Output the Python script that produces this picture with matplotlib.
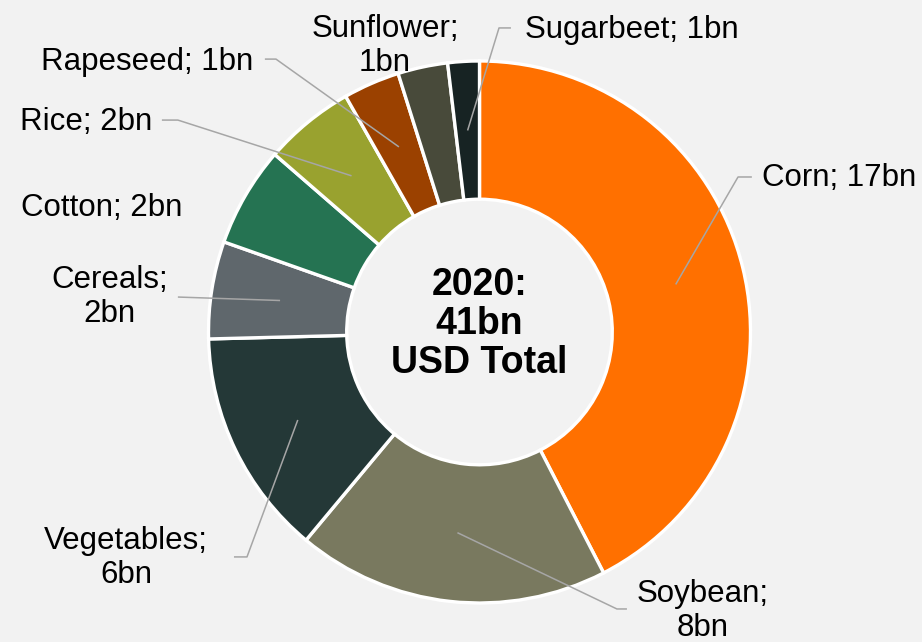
import matplotlib
matplotlib.use("Agg")
import numpy as np
import matplotlib.pyplot as plt

plt.rcParams["font.family"] = ["Liberation Sans", "DejaVu Sans"]

# -----------------------------
# Data (USD bn, 2020)
# -----------------------------

crops = ["Corn", "Soybean", "Vegetables", "Cereals", "Cotton",
         "Rice", "Rapeseed", "Sunflower", "Sugarbeet"]
values = [17.4, 7.64, 5.55, 2.38, 2.45, 2.22, 1.38, 1.22, 0.77]
colors = ["#FF7000", "#79795F", "#243837", "#5F676C", "#257352",
          "#99A22F", "#9B4100", "#484A3A", "#172323"]

# label text position, alignment, line break, leader line (end, elbow) or None
label_pos = [(1.043, 0.568), (0.825, -1.030), (-1.304, -0.834), (-1.365, 0.129),
             (-1.395, 0.458), (-1.208, 0.775), (-0.836, 0.996), (-0.349, 1.055),
             (0.168, 1.114)]
label_ha = ["left", "center", "center", "center", "center",
            "right", "right", "center", "left"]
label_wrap = [False, True, True, True, False, False, False, True, False]
leaders = [((1.005, 0.572), (0.954, 0.572)),
           ((0.544, -1.022), (0.507, -1.022)),
           ((-0.906, -0.830), (-0.858, -0.830)),
           ((-1.113, 0.129), (-1.113, 0.129)),
           None,
           ((-1.172, 0.782), (-1.113, 0.782)),
           ((-0.792, 1.007), (-0.751, 1.007)),
           None,
           ((0.116, 1.122), (0.072, 1.122))]

total = sum(values)

# -----------------------------
# Figure
# -----------------------------

bg = "#F2F2F2"
fig = plt.figure(figsize=(9.22, 6.42), dpi=100, facecolor=bg)
ax = fig.add_axes([0, 0, 1, 1])
ax.set_facecolor(bg)

ring = 0.51
wedges, _ = ax.pie(values, colors=colors, startangle=90, counterclock=False,
                   radius=1.0,
                   wedgeprops=dict(width=ring, edgecolor="white", linewidth=2.4))

# 1 unit = 271 px, ring centre at (479.5, 332) px
ax.set_xlim(-479.5 / 271, (922 - 479.5) / 271)
ax.set_ylim(-(642 - 332) / 271, 332 / 271)
ax.set_aspect("equal")
ax.axis("off")

mid_r = 1.0 - ring / 2
for i, w in enumerate(wedges):
    name = crops[i]
    txt = f"{name};\n{values[i]:.0f}bn" if label_wrap[i] else f"{name}; {values[i]:.0f}bn"
    x, y = label_pos[i]
    ax.text(x, y, txt, ha=label_ha[i], va="center", fontsize=22.5,
            color="black", linespacing=1.15, multialignment="center")

    if leaders[i] is not None:
        ang = np.deg2rad((w.theta1 + w.theta2) / 2)
        ax0, ay0 = mid_r * np.cos(ang), mid_r * np.sin(ang)
        (ex, ey), (kx, ky) = leaders[i]
        ax.plot([ax0, kx, ex], [ay0, ky, ey], color="#A6A6A6", lw=1.1,
                solid_capstyle="butt", zorder=5)

ax.text(0, 0.03, f"2020:\n{total:.0f}bn\nUSD Total", ha="center", va="center",
        fontsize=27, fontweight="bold", linespacing=1.12)

fig.savefig("out.png", dpi=100, facecolor=bg)
